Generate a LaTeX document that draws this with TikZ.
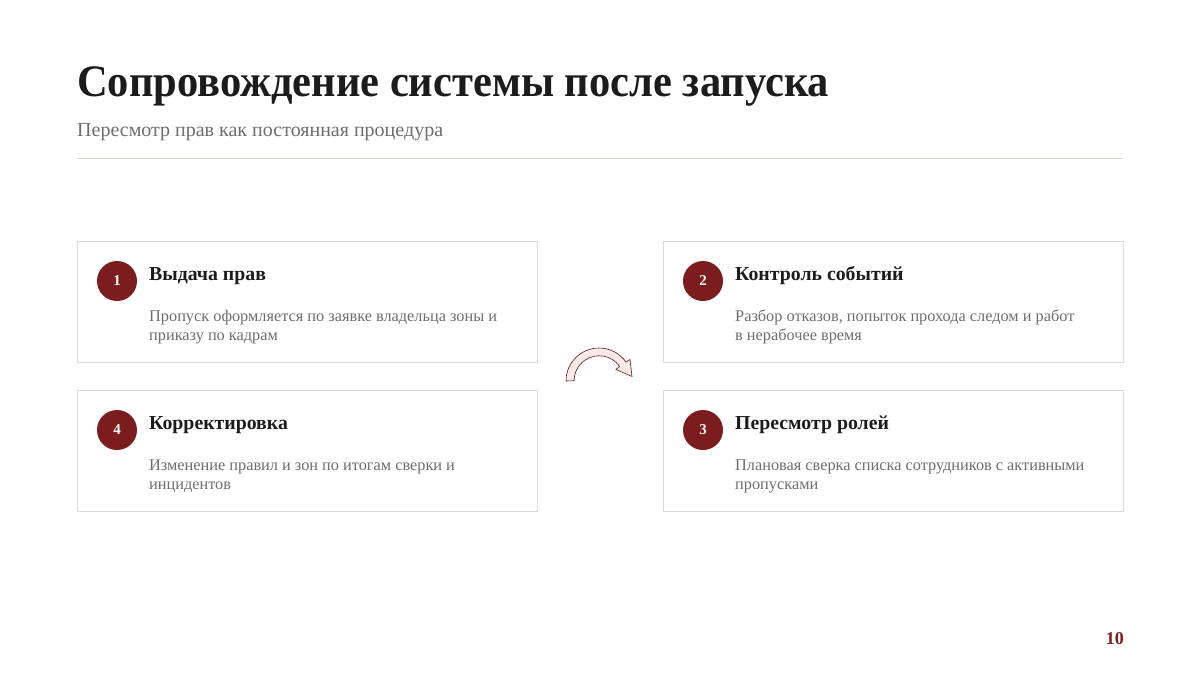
\documentclass[tikz,border=0pt]{standalone}
\usepackage{fontspec}
\setmainfont{Liberation Serif}
\newfontfamily\titlefont{Liberation Serif}[FakeStretch=0.945]
\definecolor{accent}{HTML}{7B1D1F}
\definecolor{ink}{HTML}{1C1C1C}
\definecolor{muted}{HTML}{6E6E6E}
\definecolor{rulecol}{HTML}{DED8CE}
\definecolor{boxline}{HTML}{DEDBD6}
\definecolor{arrowfill}{HTML}{F9E9E8}
\begin{document}
\begin{tikzpicture}[x=1pt,y=-1pt,
  card/.style={draw=boxline, line width=0.9pt, fill=white},
  badge/.style={circle, fill=accent, minimum size=40pt, inner sep=0pt, text=white, font=\bfseries\fontsize{15}{18}\selectfont},
  heading/.style={anchor=base west, inner sep=0pt, text=ink, font=\bfseries\fontsize{19.8}{23}\selectfont},
  desc/.style={anchor=base west, inner sep=0pt, text=muted, align=left, font=\fontsize{16.3}{19.3}\selectfont},
]
\useasboundingbox[fill=white] (0,0) rectangle (1200,675);
\node[anchor=base west, inner sep=0pt, text=ink, font=\titlefont\bfseries\fontsize{45}{54}\selectfont] (title) at (77,96) {Сопровождение системы после запуска};
\node[anchor=base west, inner sep=0pt, text=muted, font=\fontsize{20}{24}\selectfont] (subtitle) at (77,136) {Пересмотр прав как постоянная процедура};
\coordinate (rl) at (77,158.5);
\coordinate (rr) at (1123,158.5);
\draw[rulecol, line width=1.3pt] (rl) -- (rr);

% cards
\draw[card] (77,241) rectangle (537,362);
\draw[card] (663,241) rectangle (1123,362);
\draw[card] (77,390) rectangle (537,511);
\draw[card] (663,390) rectangle (1123,511);

\node[badge] (b1) at (117,281) {1};
\node[heading] (h1) at (149,280) {Выдача прав};
\node[desc] (d1) at (149,340.5) {Пропуск оформляется по заявке владельца зоны и\\приказу по кадрам};

\node[badge] (b2) at (703,281) {2};
\node[heading] (h2) at (735,280) {Контроль событий};
\node[desc] (d2) at (735,340.5) {Разбор отказов, попыток прохода следом и работ\\в нерабочее время};

\node[badge] (b4) at (117,430) {4};
\node[heading] (h4) at (149,429) {Корректировка};
\node[desc] (d4) at (149,489.5) {Изменение правил и зон по итогам сверки и\\инцидентов};

\node[badge] (b3) at (703,430) {3};
\node[heading] (h3) at (735,429) {Пересмотр ролей};
\node[desc] (d3) at (735,489.5) {Плановая сверка списка сотрудников с активными\\пропусками};

% cycle arrow
\draw[accent!80!black, line width=0.6pt, fill=arrowfill, line join=miter]
  (566,381) arc[start angle=180, end angle=325, radius=33]
  -- (630,359.5) -- (632,376.5) -- (616,369.4) -- (619.6,366.4)
  arc[start angle=325, end angle=180, radius=25] -- cycle;

\node[anchor=base east, inner sep=0pt, text=accent, font=\bfseries\fontsize{18}{22}\selectfont] (page) at (1124,644) {10};
\end{tikzpicture}
\end{document}
